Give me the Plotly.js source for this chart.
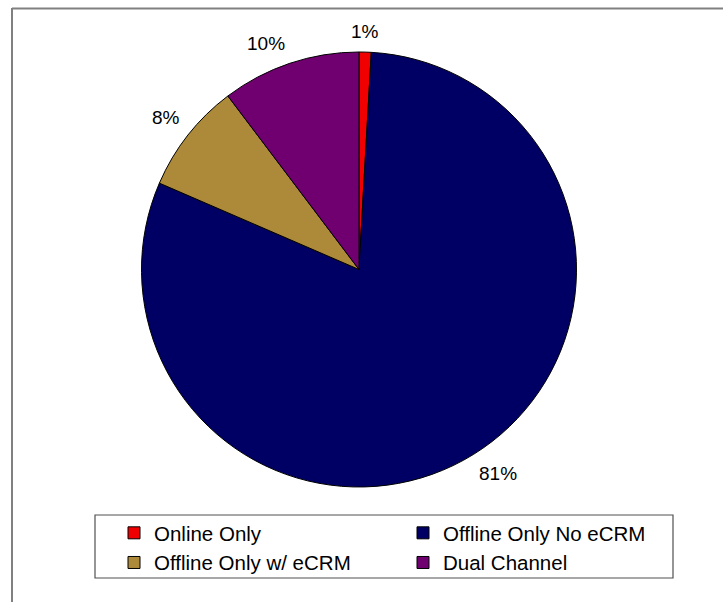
<!DOCTYPE html>
<html>
<head>
<meta charset="utf-8">
<script src="https://cdn.plot.ly/plotly-3.0.1.min.js"></script>
<style>
  html, body { margin: 0; padding: 0; background: #ffffff; }
  #chart { width: 723px; height: 602px; }
</style>
</head>
<body>
<div id="chart"></div>
<script>
// Data (shares, percent)
const categories = ["Online Only", "Offline Only No eCRM", "Offline Only w/ eCRM", "Dual Channel"];
const shares = [0.9, 80.6, 8.2, 10.3];
const shareLabels = ["1%", "81%", "8%", "10%"];
const sliceColors = ["#f00000", "#000064", "#ad893a", "#700070"];

const W = 723, H = 602;
const cx = 359, cy = 269.5, r = 217.5;
const labelGap = 8;
const FONT = "Liberation Sans, Arial, sans-serif";

const trace = {
  type: "pie",
  labels: categories,
  values: shares,
  sort: false,
  direction: "clockwise",
  rotation: 0,
  marker: { colors: sliceColors, line: { color: "#000000", width: 1 } },
  textinfo: "none",
  hoverinfo: "label+percent",
  domain: {
    x: [(cx - r) / W, (cx + r) / W],
    y: [1 - (cy + r) / H, 1 - (cy - r) / H]
  },
  automargin: false
};

// Percent labels outside each slice: the label box corner nearest the pie
// sits just beyond the rim, on the slice's middle angle.
const total = shares.reduce((a, b) => a + b, 0);
let cum = 0;
const annotations = shares.map((v, i) => {
  const mid = (cum + v / 2) / total;
  cum += v;
  const theta = 2 * Math.PI * mid;
  const s = Math.sin(theta), c = Math.cos(theta);
  const px = cx + (r + labelGap) * s;
  const py = cy - (r + labelGap) * c;
  const xanchor = Math.abs(s) < 0.15 ? "center" : (s > 0 ? "left" : "right");
  const yanchor = Math.abs(c) < 0.15 ? "middle" : (c > 0 ? "bottom" : "top");
  return {
    xref: "paper", yref: "paper",
    x: px / W, y: 1 - py / H,
    xanchor: xanchor, yanchor: yanchor,
    text: shareLabels[i],
    showarrow: false,
    font: { family: FONT, size: 19, color: "#000000" }
  };
});

const layout = {
  width: W,
  height: H,
  margin: { l: 0, r: 0, t: 0, b: 0 },
  paper_bgcolor: "#ffffff",
  font: { family: FONT, size: 19, color: "#000000" },
  showlegend: true,
  legend: {
    orientation: "h",
    x: 114 / W,
    xanchor: "left",
    y: 1 - 513 / H,
    yanchor: "top",
    entrywidth: 244,
    borderwidth: 0,
    bgcolor: "rgba(0,0,0,0)",
    font: { family: FONT, size: 20.5, color: "#000000" },
    traceorder: "normal"
  },
  annotations: annotations,
  shapes: [
    { type: "line", xref: "paper", yref: "paper",
      x0: 12 / W, x1: 1, y0: 1 - 8.5 / H, y1: 1 - 8.5 / H,
      line: { color: "#808080", width: 2 } },
    { type: "line", xref: "paper", yref: "paper",
      x0: 12 / W, x1: 12 / W, y0: 1 - 8 / H, y1: 0,
      line: { color: "#808080", width: 2 } },
    { type: "rect", xref: "paper", yref: "paper",
      x0: 95 / W, x1: 673 / W, y0: 1 - 578 / H, y1: 1 - 515 / H,
      line: { color: "#505050", width: 1.2 }, fillcolor: "rgba(0,0,0,0)" }
  ]
};

Plotly.newPlot("chart", [trace], layout, { displayModeBar: false, staticPlot: true });
</script>
</body>
</html>
